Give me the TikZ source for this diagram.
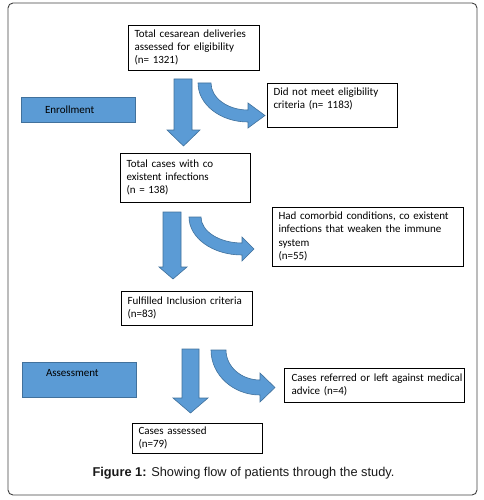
\documentclass[tikz,border=0pt]{standalone}
\usepackage{fontspec}
\setmainfont{Carlito}
\newfontfamily\capfont{Liberation Sans}
\usetikzlibrary{calc}
\definecolor{oblue}{HTML}{5B9BD5}
\definecolor{oedge}{HTML}{41719C}
\tikzset{
  x=1pt,y=-1pt,
  flowbox/.style={draw=black,line width=0.7pt,anchor=north west,align=left,
    inner xsep=6.5pt,inner ysep=0pt,font=\fontsize{11}{13.2}\selectfont,outer sep=0pt},
  phasebox/.style={draw=oedge,fill=oblue,line width=0.6pt,anchor=north west,align=left,
    inner xsep=24pt,inner ysep=0pt,font=\fontsize{11}{13.2}\selectfont,outer sep=0pt},
  blockarrow/.style={draw=oedge,fill=oblue,line width=0.6pt,line join=miter}
}
\begin{document}
\begin{tikzpicture}
\useasboundingbox (0,0) rectangle (483,500);
\draw[draw=black!75,line width=0.9pt,rounded corners=5pt] (8,3) rectangle (477,495);

% boxes
\node[flowbox,text width=118pt,minimum height=45pt] (b1) at (128,25)
  {Total cesarean deliveries\\assessed for eligibility\\(n= 1321)};
\node[flowbox,text width=117pt,minimum height=44pt] (b2) at (267,83)
  {Did not meet eligibility\\criteria (n= 1183)\\\mbox{}};
\node[flowbox,text width=117pt,minimum height=49pt] (b3) at (120,153)
  {Total cases with co\\existent infections\\(n = 138)};
\node[flowbox,text width=178pt,minimum height=59pt] (b4) at (272,207)
  {\mbox{Had comorbid conditions, co existent}\\\mbox{infections that weaken the immune}\\system\\(n=55)};
\node[flowbox,text width=165pt,minimum height=34pt,inner xsep=7.5pt] (b6) at (284,368)
  {\mbox{Cases referred or left against medical}\\advice (n=4)};
\node[flowbox,text width=118pt,minimum height=34pt] (b5) at (121,291)
  {Fulfilled Inclusion criteria\\(n=83)};
\node[flowbox,text width=117pt,minimum height=30pt] (b7) at (132,423)
  {Cases assessed\\(n=79)};

\node[phasebox,text width=66pt,minimum height=25pt] (enr) at (21,97) {Enrollment};
\node[phasebox,text width=66pt,minimum height=35pt] (ass) at (22,362) {Assessment\\\mbox{}};

% straight block arrows
\draw[blockarrow] (174,79) -- (192,79) -- (192,130) -- (200,130) -- (183.5,146) -- (167,130) -- (174,130) -- cycle;
\draw[blockarrow] (163,212) -- (181,212) -- (181,267) -- (187,267) -- (173,279) -- (159,267) -- (163,267) -- cycle;
\draw[blockarrow] (182,349) -- (199,349) -- (199,398) -- (208,398) -- (190.5,413) -- (173,398) -- (182,398) -- cycle;

% curved block arrows
\draw[blockarrow] (198,83) -- (211,83) .. controls (211,97.9) and (227.6,110) .. (248,110)
  -- (248,103) -- (265,115.5) -- (248,128) -- (248,122)
  .. controls (220.4,122) and (198,104.5) .. (198,83) -- cycle;
\draw[blockarrow] (189,217) -- (201,217) .. controls (201,231.4) and (219.4,243) .. (242,243)
  -- (242,237) -- (254,249) -- (242,261) -- (242,255)
  .. controls (212.7,255) and (189,238) .. (189,217) -- cycle;
\draw[blockarrow] (211,350) -- (226,350) .. controls (226,366.6) and (241.2,380) .. (260,380)
  -- (260,373) -- (275,387.5) -- (260,402) -- (260,395)
  .. controls (233,395) and (211,374.8) .. (211,350) -- cycle;

% caption
\node[font=\capfont\fontsize{12.8}{15}\selectfont,text=black!90,inner sep=0pt] (cap) at (243.5,473)
  {\textbf{Figure 1:} Showing flow of patients through the study.};
\end{tikzpicture}
\end{document}
